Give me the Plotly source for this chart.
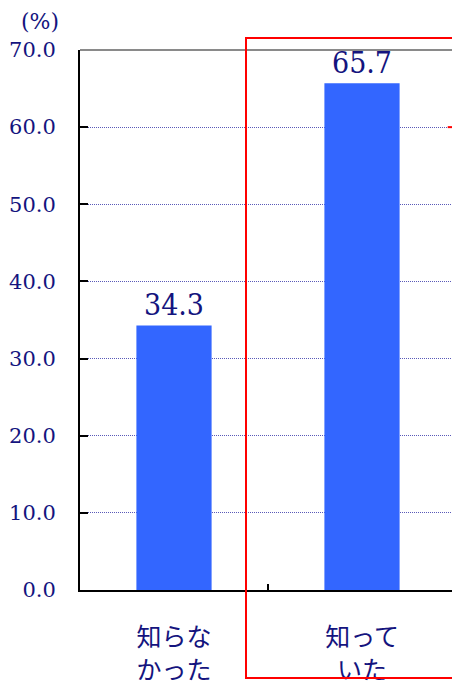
import plotly.graph_objects as go

categories = ["知らな<br>かった", "知って<br>いた"]
values = [34.3, 65.7]
value_labels = ["34.3", "65.7"]
y_ticks = [0, 10, 20, 30, 40, 50, 60, 70]
y_tick_labels = ["0.0", "10.0", "20.0", "30.0", "40.0", "50.0", "60.0", "70.0"]

navy = "#14147e"
serif = "DejaVu Serif"

fig = go.Figure(go.Bar(
    x=categories, y=values, text=value_labels, textposition="outside",
    textfont=dict(family="DejaVu Serif Condensed", size=30, color=navy),
    marker=dict(color="#3366ff", line=dict(width=0)),
    cliponaxis=False,
))

fig.update_layout(
    width=452, height=676,
    margin=dict(l=72, r=4, t=42, b=94),
    plot_bgcolor="white", paper_bgcolor="white",
    bargap=0.6, showlegend=False,
    xaxis=dict(
        showline=True, linecolor="black", linewidth=2, automargin=False,
        ticks="inside", tickson="boundaries", ticklen=6, tickcolor="black", tickwidth=2,
        tickfont=dict(family="Noto Sans CJK JP", size=25, color=navy),
        ticklabelstandoff=24,
    ),
    yaxis=dict(
        range=[0, 70], tickvals=y_ticks, ticktext=y_tick_labels, automargin=False,
        showline=True, linecolor="black", linewidth=2,
        ticks="inside", ticklen=8, tickcolor="black", tickwidth=2,
        tickfont=dict(family=serif, size=21, color=navy),
        showgrid=True, gridcolor="#5a5ab8", gridwidth=1, griddash="1px,1px",
        ticklabelstandoff=18, zeroline=False,
    ),
)

# gray frame top/right
fig.add_shape(type="line", xref="paper", yref="paper", x0=0, x1=1, y0=1, y1=1,
              line=dict(color="#8a8a8a", width=2))
fig.add_shape(type="line", xref="paper", yref="paper", x0=1, x1=1, y0=0, y1=1,
              line=dict(color="#8a8a8a", width=2))

# red highlight box
fig.add_shape(type="rect", xref="paper", yref="paper", x0=0.4415, x1=1.05, y0=-0.163, y1=1.022,
              line=dict(color="#ff0000", width=2), fillcolor="rgba(0,0,0,0)")
fig.add_shape(type="line", xref="paper", yref="y", x0=0.978, x1=1.05, y0=60, y1=60,
              line=dict(color="#ff0000", width=2))

fig.add_annotation(text="(%)", xref="paper", yref="paper", x=-0.106, y=1.052,
                   xanchor="center", yanchor="middle", showarrow=False,
                   font=dict(family=serif, size=22, color=navy))

fig.write_html("out.html")
